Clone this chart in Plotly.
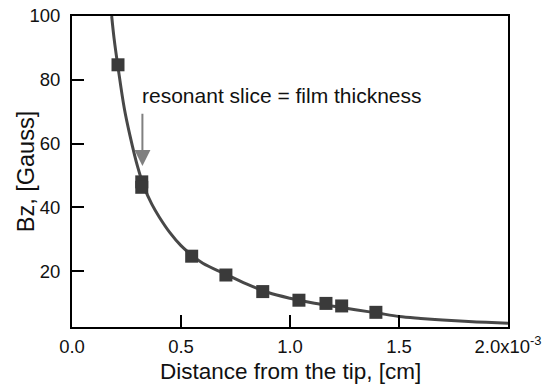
import plotly.graph_objects as go

# Measured points (x in units of 1e-3 cm, Bz in Gauss)
pts_x = [0.211, 0.320, 0.320, 0.549, 0.706, 0.875, 1.041, 1.165, 1.237, 1.394]
pts_y = [84.7, 48.0, 46.3, 24.7, 18.8, 13.6, 10.9, 9.9, 9.1, 7.1]

# Fitted curve
curve_x = [0.182, 0.193, 0.211, 0.24, 0.266, 0.30, 0.33, 0.366, 0.40, 0.45, 0.50,
           0.55, 0.60, 0.70, 0.80, 0.90, 1.00, 1.10, 1.20, 1.30, 1.40, 1.50,
           1.60, 1.70, 1.80, 1.90, 2.00]
curve_y = [100, 93, 84, 71, 62.5, 53, 46.5, 41, 37, 32, 28,
           25, 22.5, 19.2, 16, 13.3, 11.5, 10.1, 9.0, 7.9, 6.9, 5.8,
           5.2, 4.7, 4.3, 3.95, 3.65]

x_tickvals = [0, 0.5, 1.0, 1.5, 2.0]
x_ticktext = ["0.0", "0.5", "1.0", "1.5", "2.0x10<sup>-3</sup>"]
y_tickvals = [20, 40, 60, 80, 100]

x_title = "Distance from the tip, [cm]"
y_title = "Bz, [Gauss]"
note_text = "resonant slice = film thickness"
arrow_tip = (0.323, 53.0)
arrow_tail = (0.323, 69.8)
note_pos = (0.314, 75.0)

FONT = "Liberation Sans, Arial, Helvetica, sans-serif"

fig = go.Figure()
fig.add_trace(go.Scatter(x=curve_x, y=curve_y, mode="lines",
                         line=dict(color="#484848", width=3, shape="spline"),
                         hoverinfo="skip", showlegend=False))
fig.add_trace(go.Scatter(x=pts_x, y=pts_y, mode="markers",
                         marker=dict(symbol="square", size=13, color="#3a3a3a",
                                     line=dict(width=0)),
                         showlegend=False))

fig.add_annotation(x=arrow_tip[0], y=arrow_tip[1], ax=arrow_tail[0], ay=arrow_tail[1],
                   xref="x", yref="y", axref="x", ayref="y",
                   showarrow=True, arrowhead=2, arrowsize=1.6, arrowwidth=2,
                   arrowcolor="#808080", text="")
fig.add_annotation(x=note_pos[0], y=note_pos[1], xref="x", yref="y",
                   text=note_text, showarrow=False, xanchor="left", yanchor="middle",
                   font=dict(family=FONT, size=21, color="#111111"))
# axis titles
fig.add_annotation(x=0.5, y=-0.142, xref="paper", yref="paper", text=x_title,
                   showarrow=False, xanchor="center", yanchor="middle",
                   font=dict(family=FONT, size=22.5, color="#111111"))
fig.add_annotation(x=-0.106, y=0.5, xref="paper", yref="paper", text=y_title,
                   showarrow=False, xanchor="center", yanchor="middle", textangle=-90,
                   font=dict(family=FONT, size=23.5, color="#111111"))

fig.update_layout(
    width=550, height=389,
    margin=dict(l=72, r=42, t=16, b=62, autoexpand=False),
    plot_bgcolor="white", paper_bgcolor="white",
    font=dict(family=FONT, size=18.5, color="#111111"),
)
fig.update_xaxes(range=[0, 2.0], tickmode="array", tickvals=x_tickvals, ticktext=x_ticktext,
                 ticks="inside", ticklen=12, tickwidth=2, tickcolor="black",
                 showline=True, linecolor="black", linewidth=2, mirror=True,
                 showgrid=False, zeroline=False, ticklabelstandoff=2)
fig.update_yaxes(range=[2.5, 100], tickmode="array", tickvals=y_tickvals,
                 ticks="inside", ticklen=12, tickwidth=2, tickcolor="black",
                 showline=True, linecolor="black", linewidth=2, mirror=True,
                 showgrid=False, zeroline=False, ticklabelstandoff=6)

fig.write_html("out.html")
